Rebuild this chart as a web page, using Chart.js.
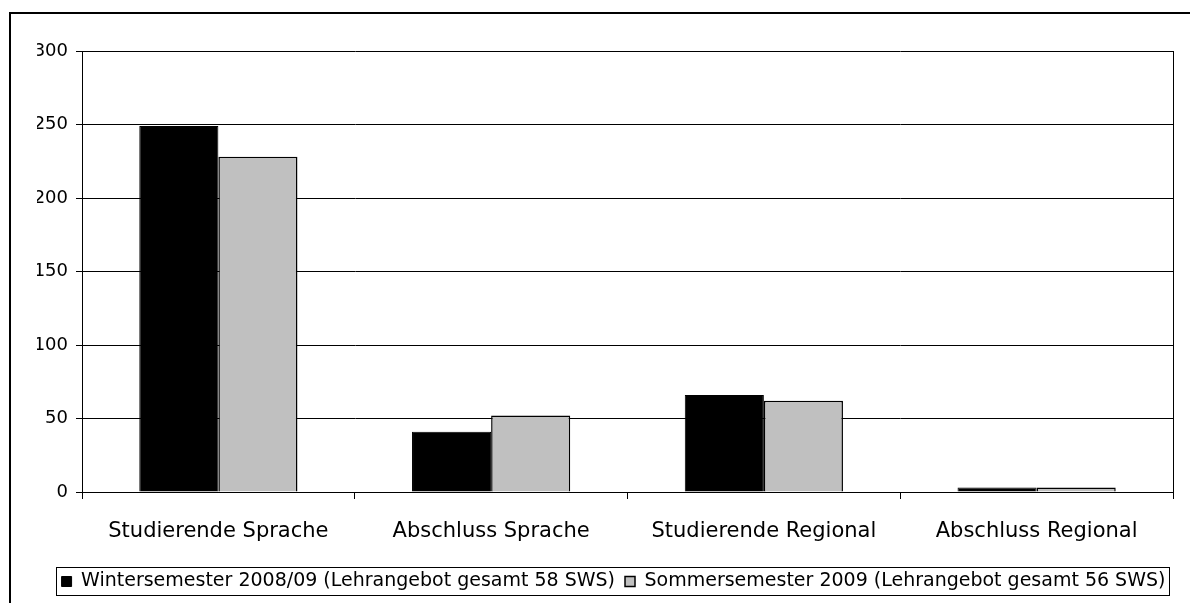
<!DOCTYPE html>
<html>
<head>
<meta charset="utf-8">
<script src="https://cdn.jsdelivr.net/npm/chart.js@4/dist/chart.umd.min.js"></script>
<style>
  html, body { margin: 0; padding: 0; background: #fff; }
  canvas { display: block; }
</style>
</head>
<body>
<canvas id="c" width="1190" height="603"></canvas>
<script>
const categories = ['Studierende Sprache', 'Abschluss Sprache', 'Studierende Regional', 'Abschluss Regional'];
const seriesNames = ['Wintersemester 2008/09 (Lehrangebot gesamt 58 SWS)', 'Sommersemester 2009 (Lehrangebot gesamt 56 SWS)'];
const winterValues = [249, 41, 66, 3];
const summerValues = [228, 52, 62, 3];
const yMin = 0, yMax = 300, yStep = 50;

Chart.defaults.font.family = '"DejaVu Sans", "Liberation Sans", sans-serif';
Chart.defaults.color = '#000';

const framePlugin = {
  id: 'frame',
  beforeDraw(chart) {
    const ctx = chart.ctx;
    ctx.save();
    ctx.fillStyle = '#fff';
    ctx.fillRect(0, 0, chart.width, chart.height);
    ctx.strokeStyle = '#000';
    ctx.lineWidth = 2;
    ctx.strokeRect(10, 13, chart.width + 50, chart.height + 50);
    ctx.restore();
  },
  afterDraw(chart) {
    const hb = chart.legend && chart.legend.legendHitBoxes;
    if (!hb || !hb.length) return;
    let l = Infinity, r = -Infinity, t = Infinity, b = -Infinity;
    hb.forEach(h => { l = Math.min(l, h.left); r = Math.max(r, h.left + h.width); t = Math.min(t, h.top); b = Math.max(b, h.top + h.height); });
    const ctx = chart.ctx;
    ctx.save();
    ctx.strokeStyle = '#000';
    ctx.lineWidth = 1;
    ctx.strokeRect(Math.round(l - 6) + 0.5, Math.round(t - 5) + 0.5, Math.round(r - l + 9), Math.round(b - t + 9));
    ctx.restore();
  }
};

new Chart(document.getElementById('c'), {
  type: 'bar',
  data: {
    labels: categories,
    datasets: [
      { label: seriesNames[0], data: winterValues, backgroundColor: '#000', borderColor: '#000', borderWidth: 1, yAxisID: 'y' },
      { label: seriesNames[1], data: summerValues, backgroundColor: '#c0c0c0', borderColor: '#000', borderWidth: 1.5, yAxisID: 'y' }
    ]
  },
  options: {
    responsive: false,
    animation: false,
    events: [],
    layout: { padding: { left: 37, right: 0, top: 51, bottom: 2 } },
    datasets: { bar: { categoryPercentage: 0.58, barPercentage: 1 } },
    scales: {
      x: {
        grid: { display: true, drawOnChartArea: false, drawTicks: true, tickLength: 7, color: '#000', offset: true },
        border: { display: true, color: '#000', width: 1 },
        ticks: { font: { size: 21 }, color: '#000', padding: 20, maxRotation: 0, autoSkip: false },
        afterFit(s) { s.height = 70; }
      },
      y: {
        position: 'left',
        min: yMin, max: yMax,
        ticks: { stepSize: yStep, font: { size: 18 }, color: '#000', padding: 8 },
        grid: { color: '#000', lineWidth: 1, tickLength: 6, drawTicks: true },
        border: { display: true, color: '#000', width: 1 },
        afterFit(s) { s.width = 45; }
      },
      yR: {
        type: 'linear',
        position: 'right',
        display: true,
        grid: { display: false, drawTicks: false },
        ticks: { display: false },
        border: { display: true, color: '#000', width: 1 },
        afterFit(s) { s.width = 17; }
      }
    },
    plugins: {
      legend: {
        position: 'bottom',
        align: 'center',
        labels: { boxWidth: 10, boxHeight: 10, padding: 10, font: { size: 19 }, color: '#000' }
      },
      tooltip: { enabled: false }
    }
  },
  plugins: [framePlugin]
});
</script>
</body>
</html>
